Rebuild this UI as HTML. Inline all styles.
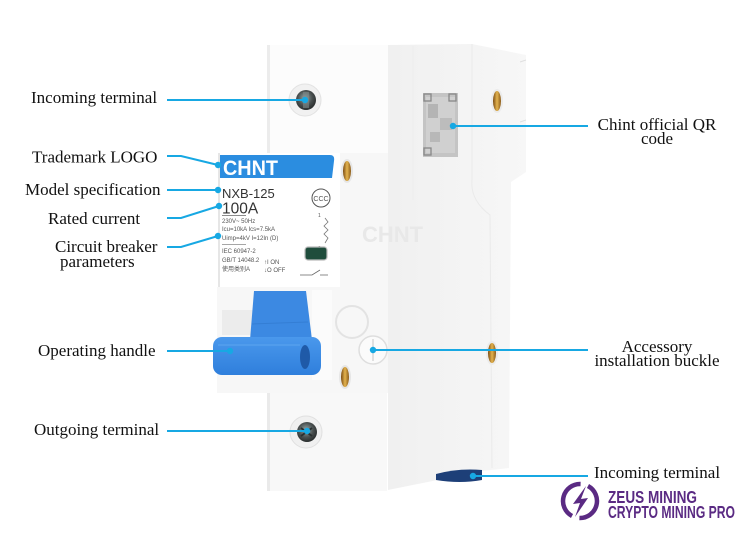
<!DOCTYPE html>
<html>
<head>
<meta charset="utf-8">
<style>
html,body{margin:0;padding:0;background:#fff;}
svg{display:block;}
.lbl{font-family:"Liberation Serif","Times New Roman",serif;font-size:17px;fill:#111;}
.sm{font-family:"Liberation Sans","Noto Sans CJK SC",sans-serif;fill:#555;}
</style>
</head>
<body>
<svg width="750" height="536" viewBox="0 0 750 536" xmlns="http://www.w3.org/2000/svg">
<defs>
  <linearGradient id="side" x1="0" x2="1" y1="0" y2="0">
    <stop offset="0" stop-color="#f0f0f0"/>
    <stop offset="0.6" stop-color="#f4f4f4"/>
    <stop offset="1" stop-color="#f7f7f7"/>
  </linearGradient>
  <linearGradient id="brass" x1="0" x2="1">
    <stop offset="0" stop-color="#7a4a10"/>
    <stop offset="0.5" stop-color="#e3b34f"/>
    <stop offset="1" stop-color="#8a5a18"/>
  </linearGradient>
  <radialGradient id="screw" cx="0.45" cy="0.4" r="0.6">
    <stop offset="0" stop-color="#9aa"/>
    <stop offset="0.6" stop-color="#4a5050"/>
    <stop offset="1" stop-color="#2a2e2e"/>
  </radialGradient>
  <linearGradient id="blue" x1="0" x2="0" y1="0" y2="1">
    <stop offset="0" stop-color="#4a98ec"/>
    <stop offset="1" stop-color="#2f7fdc"/>
  </linearGradient>
</defs>

<rect width="750" height="536" fill="#fff"/>

<!-- side face -->
<path d="M388,45 L472,44 L526,55 L526,172 L511,182 L509,468 L482,471 L388,490 Z" fill="url(#side)"/>
<path d="M472,44 L472,180 Q470,200 490,215 L492,468" fill="none" stroke="#eaeaea" stroke-width="1"/>
<path d="M413,46 L413,200" stroke="#ededed" stroke-width="1"/>
<path d="M526,60 L520,62 M526,120 L520,122" stroke="#e0e0e0" stroke-width="1"/>

<!-- QR code -->
<rect x="423" y="93" width="35" height="64" fill="#c4c4c4"/>
<rect x="426" y="97" width="29" height="56" fill="#d0d0d0"/>
<rect x="428" y="104" width="10" height="14" fill="#b4b4b4"/>
<rect x="440" y="118" width="12" height="12" fill="#bcbcbc"/>
<rect x="430" y="132" width="10" height="10" fill="#b8b8b8"/>
<rect x="424" y="94" width="7" height="7" fill="none" stroke="#888" stroke-width="1.3"/>
<rect x="449" y="94" width="7" height="7" fill="none" stroke="#888" stroke-width="1.3"/>
<rect x="424" y="148" width="7" height="7" fill="none" stroke="#888" stroke-width="1.3"/>

<!-- brass holes on side -->
<ellipse cx="497" cy="101" rx="6" ry="12" fill="#ebebeb"/>
<ellipse cx="497" cy="101" rx="4" ry="10" fill="url(#brass)"/>
<ellipse cx="492" cy="353" rx="6" ry="12" fill="#ebebeb"/>
<ellipse cx="492" cy="353" rx="4" ry="10" fill="url(#brass)"/>

<!-- upper front block -->
<rect x="267" y="45" width="121" height="110" fill="#fcfcfc"/>
<rect x="267" y="45" width="3" height="110" fill="#ececec"/>
<circle cx="305" cy="100" r="16" fill="#f1f1f1" stroke="#e2e2e2"/>
<circle cx="306" cy="100" r="10" fill="url(#screw)"/>
<rect x="303" y="92" width="6" height="16" fill="#7f8a8a" opacity="0.6"/>

<!-- label panel -->
<rect x="340" y="153" width="48" height="137" fill="#f7f7f7"/>
<text x="362" y="242" font-family="Liberation Sans,sans-serif" font-size="22" font-weight="bold" fill="#e8e8e8">CHNT</text>
<rect x="218" y="153" width="122" height="136" fill="#ffffff"/>
<rect x="218" y="153" width="2" height="136" fill="#e6e6e6"/>
<ellipse cx="347" cy="171" rx="6" ry="12" fill="#e6e6e6"/>
<ellipse cx="347" cy="171" rx="4" ry="10" fill="url(#brass)"/>

<path d="M220,155 L330,155 Q335,155 334,161 L332,178 L220,178 Z" fill="#2b8de0"/>
<text x="223" y="175" font-family="Liberation Sans,sans-serif" font-size="21" font-weight="bold" fill="#fff" textLength="55" lengthAdjust="spacingAndGlyphs">CHNT</text>

<text class="sm" x="222" y="198" font-size="13" style="fill:#333">NXB-125</text>
<text class="sm" x="222" y="213.5" font-size="15.5" style="fill:#333">100A</text>
<line x1="222" y1="215.5" x2="246" y2="215.5" stroke="#666" stroke-width="0.8"/>
<text class="sm" x="222" y="223" font-size="6">230V~  50Hz</text>
<text class="sm" x="222" y="231" font-size="6">Icu=10kA  Ics=7.5kA</text>
<text class="sm" x="222" y="240" font-size="6">Uimp=4kV  I=12In (D)</text>
<line x1="222" y1="244.5" x2="246" y2="244.5" stroke="#888" stroke-width="0.7"/>
<text class="sm" x="222" y="253" font-size="6">IEC 60947-2</text>
<text class="sm" x="222" y="262" font-size="6">GB/T 14048.2</text>
<text class="sm" x="222" y="271" font-size="6">使用类别A</text>
<text class="sm" x="264" y="264" font-size="6">↑I ON</text>
<text class="sm" x="264" y="272" font-size="6">↓O OFF</text>
<circle cx="321" cy="198" r="9" fill="none" stroke="#555" stroke-width="1"/>
<text class="sm" x="321" y="201" font-size="7" text-anchor="middle">CCC</text>
<text class="sm" x="318" y="217" font-size="5">1</text>
<text class="sm" x="318" y="250" font-size="5">2</text>
<polyline points="325,218 328,222 324,226 328,230 324,234 328,238 325,243" fill="none" stroke="#777" stroke-width="0.8"/>
<rect x="305" y="247" width="22" height="13" rx="3" fill="#1f4d3c" stroke="#bbb" stroke-width="1.2"/>
<path d="M300,275 L312,275 L320,270 M320,275 L328,275" fill="none" stroke="#666" stroke-width="0.8"/>

<!-- handle region -->
<rect x="217" y="287" width="171" height="106" fill="#f7f7f7"/>
<rect x="222" y="310" width="35" height="25" fill="#ececec"/>
<rect x="312" y="290" width="20" height="90" fill="#fbfbfb"/>
<circle cx="352" cy="322" r="16" fill="none" stroke="#e3e3e3" stroke-width="2"/>
<circle cx="373" cy="350" r="14" fill="#fbfbfb" stroke="#dedede" stroke-width="1.5"/>
<line x1="373" y1="339" x2="373" y2="361" stroke="#e0e0e0" stroke-width="2"/>
<ellipse cx="345" cy="377" rx="6" ry="12" fill="#e6e6e6"/>
<ellipse cx="345" cy="377" rx="4" ry="10" fill="url(#brass)"/>

<!-- blue handle -->
<polygon points="254,291 306,291 312,340 250,340" fill="#3c89e2"/>
<path d="M252,324 L308,322" stroke="#2f77cc" stroke-width="1" opacity="0.6"/>
<rect x="213" y="337" width="108" height="38" rx="9" fill="url(#blue)"/>
<path d="M218,345 L300,345" stroke="#5ba5f0" stroke-width="1"/>
<ellipse cx="305" cy="357" rx="5" ry="12" fill="#1f5aa8"/>

<!-- lower block -->
<rect x="267" y="393" width="120" height="98" fill="#f8f8f8"/>
<rect x="267" y="393" width="3" height="98" fill="#eaeaea"/>
<circle cx="306" cy="432" r="16" fill="#f0f0f0" stroke="#e0e0e0"/>
<circle cx="307" cy="432" r="10" fill="url(#screw)"/>
<path d="M301,428 L312,436 M301,436 L312,428" stroke="#2a3030" stroke-width="2"/>

<!-- bottom dark clip -->
<path d="M436,474 Q458,468 482,470 L482,480 Q460,484 436,480 Z" fill="#1d3f78"/>

<!-- connector lines -->
<g stroke="#17a8e3" stroke-width="2" fill="none">
  <path d="M167,100 L305,100"/>
  <path d="M453,126 L588,126"/>
  <path d="M167,156 L181,156 L218,165"/>
  <path d="M167,190 L218,190"/>
  <path d="M167,218 L181,218 L219,206"/>
  <path d="M167,247 L181,247 L218,236"/>
  <path d="M167,351 L230,351"/>
  <path d="M373,350 L588,350"/>
  <path d="M167,431 L307,431"/>
  <path d="M473,476 L588,476"/>
</g>
<g fill="#17a8e3">
  <circle cx="305" cy="100" r="3.2"/>
  <circle cx="453" cy="126" r="3.2"/>
  <circle cx="218" cy="165" r="3.2"/>
  <circle cx="218" cy="190" r="3.2"/>
  <circle cx="219" cy="206" r="3.2"/>
  <circle cx="218" cy="236" r="3.2"/>
  <circle cx="230" cy="351" r="3.2"/>
  <circle cx="373" cy="350" r="3.2"/>
  <circle cx="307" cy="431" r="3.2"/>
  <circle cx="473" cy="476" r="3.2"/>
</g>

<!-- left labels -->
<text class="lbl" x="31" y="103">Incoming terminal</text>
<text class="lbl" x="32" y="162.5">Trademark LOGO</text>
<text class="lbl" x="25" y="195">Model specification</text>
<text class="lbl" x="48" y="224">Rated current</text>
<text class="lbl" x="55" y="252">Circuit breaker</text>
<text class="lbl" x="60" y="267">parameters</text>
<text class="lbl" x="38" y="356">Operating handle</text>
<text class="lbl" x="34" y="435">Outgoing terminal</text>

<!-- right labels -->
<text class="lbl" x="657" y="130" text-anchor="middle">Chint official QR</text>
<text class="lbl" x="657" y="144" text-anchor="middle">code</text>
<text class="lbl" x="657" y="352" text-anchor="middle">Accessory</text>
<text class="lbl" x="657" y="366" text-anchor="middle">installation buckle</text>
<text class="lbl" x="594" y="478">Incoming terminal</text>

<!-- Zeus Mining logo -->
<g stroke="#5a2a83" stroke-width="4.5" fill="none">
  <path d="M587.98,485.99 A17,17 0 0 1 579.41,517.98"/>
  <path d="M572.02,516.01 A17,17 0 0 1 580.59,484.02"/>
</g>
<polygon points="586,486 573,504 580,503 575,517 588,498 581,499" fill="#5a2a83"/>
<text x="608" y="503" font-family="Liberation Sans,sans-serif" font-size="17.5" font-weight="bold" fill="#5a2a83" textLength="89" lengthAdjust="spacingAndGlyphs">ZEUS MINING</text>
<text x="608" y="518" font-family="Liberation Sans,sans-serif" font-size="17.5" font-weight="bold" fill="#5a2a83" textLength="127" lengthAdjust="spacingAndGlyphs">CRYPTO MINING PRO</text>
</svg>
</body>
</html>
